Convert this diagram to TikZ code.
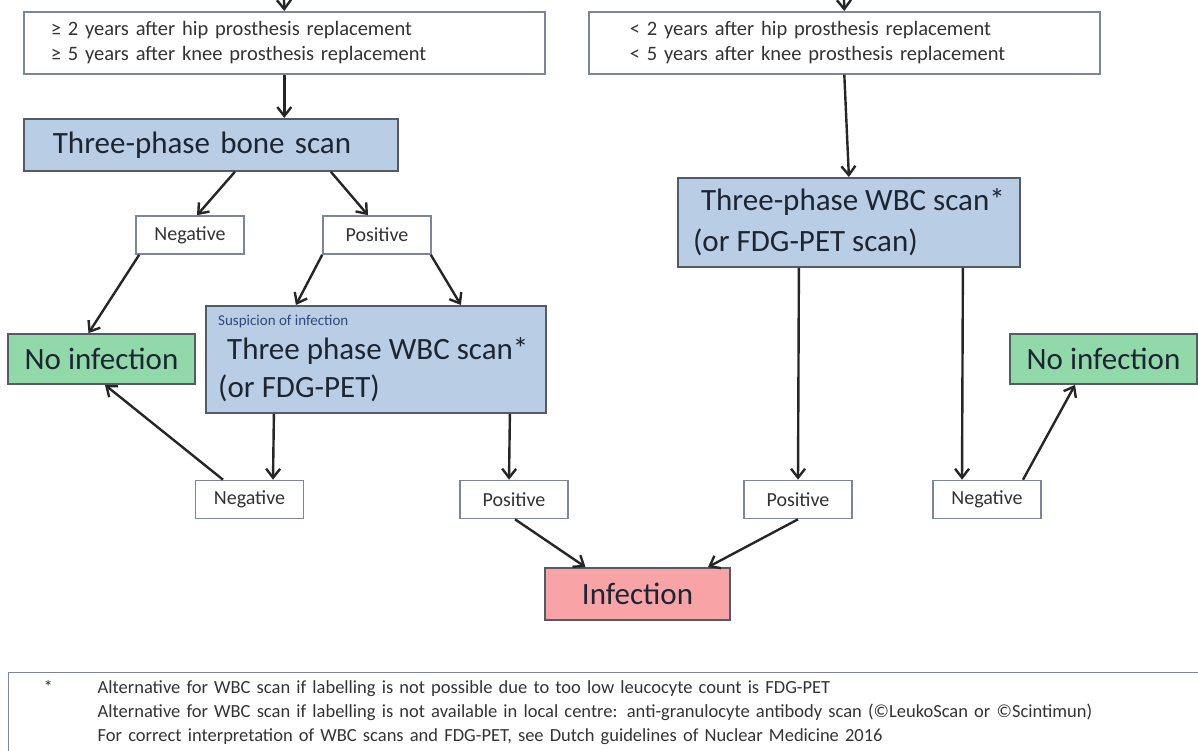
\documentclass[tikz,border=0pt]{standalone}
\usepackage{fontspec}
\setmainfont{Carlito}
\usepackage{xcolor}
\usetikzlibrary{arrows.meta}
\definecolor{scanblue}{HTML}{B9CDE5}
\definecolor{noinfgreen}{HTML}{92D9AA}
\definecolor{infpink}{HTML}{F8A3A6}
\definecolor{boxline}{HTML}{7D8699}
\definecolor{darkline}{HTML}{545B66}
\definecolor{labeltext}{HTML}{1C2633}
\definecolor{suspblue}{HTML}{2F4A7A}

\begin{document}
\begin{tikzpicture}[x=1pt, y=-1pt,
        arr/.style={-{Straight Barb[length=9pt,width=14pt]}, line width=2.4pt, black!85},
        infobox/.style={draw=boxline, line width=1.6pt, fill=white, anchor=north west, align=left,
                inner ysep=0pt, font=\fontsize{20.5}{25}\selectfont, text=black!80},
        scanbox/.style={draw=darkline, line width=1.8pt, fill=scanblue, anchor=north west, align=left,
                inner ysep=0pt, font=\fontsize{31}{41}\selectfont, text=labeltext},
        bigtext/.style={inner sep=0pt, font=\fontsize{31}{41}\selectfont, text=labeltext},
        resultbox/.style={draw=boxline, line width=1.6pt, fill=white, minimum width=108pt,
                minimum height=38pt, font=\fontsize{20}{24}\selectfont, text=black!80},
        endbox/.style={draw=darkline, line width=1.8pt, minimum height=50pt,
                font=\fontsize{31}{41}\selectfont, text=labeltext}]

                  \useasboundingbox (0,0) rectangle (1198,751);

                  \node[infobox, inner xsep=27pt, text width=467pt, minimum height=62pt] (topL) at (23,11)
                  {≥ 2 years after hip prosthesis replacement\\ ≥ 5 years after knee prosthesis replacement};
                  \node[infobox, inner xsep=41pt, text width=429pt, minimum height=62pt] (topR) at (588,11)
                  {< 2 years after hip prosthesis replacement\\ < 5 years after knee prosthesis replacement};

                  \node[scanbox, inner xsep=29pt, text width=316pt, minimum height=52pt] (bone) at (23,118)
                  {Three-phase bone scan};
                  \node[scanbox, inner xsep=0pt, minimum width=342pt, minimum height=89pt] (wbcR) at (677,177)
                  {\hspace*{8pt}Three-phase WBC scan*\\(or FDG-PET scan)};
                  \node[scanbox, inner xsep=0pt, minimum width=340pt, minimum height=107pt] (wbcL) at (205,305) {};
                  \node[inner sep=0pt, anchor=west, font=\fontsize{15}{18}\selectfont, text=suspblue] (susp) at (218,322)
                  {Suspicion of infection};
                  \node[bigtext, anchor=west] (wbcLa) at (227,351) {Three phase WBC scan*};
                  \node[bigtext, anchor=west] (wbcLb) at (218,388) {(or FDG-PET)};

                  \node[resultbox] (neg1) at (190,235) {Negative};
                  \node[resultbox] (pos1) at (377,235) {Positive};
                  \node[resultbox] (neg2) at (249.5,499.5) {Negative};
                  \node[resultbox] (pos2) at (514,499.5) {Positive};
                  \node[resultbox] (pos3) at (798,499.5) {Positive};
                  \node[resultbox] (neg3) at (987,499.5) {Negative};

                  \node[endbox, fill=noinfgreen, minimum width=187pt] (noL) at (101.5,359) {No infection};
                  \node[endbox, fill=noinfgreen, minimum width=187pt] (noR) at (1103.5,359) {No infection};
                  \node[endbox, fill=infpink, minimum width=185pt, minimum height=52pt] (inf) at (637.5,594) {Infection};

                  \coordinate (inL) at (283.5,-15);
                  \coordinate (inR) at (843.5,-15);
                  \draw[arr] (inL) -- (topL.north);
                  \draw[arr] (inR) -- (topR.north);

                  \draw[arr] (topL.south) -- (topL.south |- bone.north);
                  \draw[arr] (topR.south) -- (wbcR.north);

                  \draw[arr] ([xshift=24pt]bone.south) -- ([xshift=7pt]neg1.north);
                  \draw[arr] ([xshift=120pt]bone.south) -- ([xshift=-9pt]pos1.north);
                  \draw[arr] ([xshift=4pt]neg1.south west) -- ([xshift=-13pt]noL.north);
                  \draw[arr] (pos1.south west) -- ([xshift=-80pt]wbcL.north);
                  \draw[arr] ([xshift=-1pt]pos1.south east) -- ([xshift=85pt]wbcL.north);

                  \draw[arr] ([xshift=-102pt]wbcL.south) -- ([xshift=23.5pt]neg2.north);
                  \draw[arr] ([xshift=134pt]wbcL.south) -- ([xshift=-5pt]pos2.north);
                  \draw[arr] ([xshift=-26.5pt]neg2.north) -- ([xshift=3.5pt]noL.south);
                  \draw[arr] ([xshift=1pt]pos2.south) -- ([xshift=-52pt]inf.north);

                  \draw[arr] ([xshift=-50pt]wbcR.south) -- (pos3.north);
                  \draw[arr] ([xshift=114pt]wbcR.south) -- ([xshift=-25pt]neg3.north);
                  \draw[arr] (pos3.south) -- ([xshift=70.5pt]inf.north);
                  \draw[arr] ([xshift=36pt]neg3.north) -- ([xshift=-28.5pt]noR.south);

                  \node[draw=boxline, line width=1.4pt, anchor=north west, align=left, inner xsep=35pt, inner ysep=8pt,
                          text width=1200pt, font=\fontsize{18.5}{24}\selectfont, text=black!80] (foot) at (8,672)
                  {\makebox[54pt][l]{*}Alternative for WBC scan if labelling is not possible due to too low leucocyte count is FDG-PET\\
                   \hspace*{54pt}Alternative for WBC scan if labelling is not available in local centre: anti-granulocyte antibody scan (©LeukoScan or ©Scintimun)\\
                   \hspace*{54pt}For correct interpretation of WBC scans and FDG-PET, see Dutch guidelines of Nuclear Medicine 2016};
              \end{tikzpicture}
\end{document}
